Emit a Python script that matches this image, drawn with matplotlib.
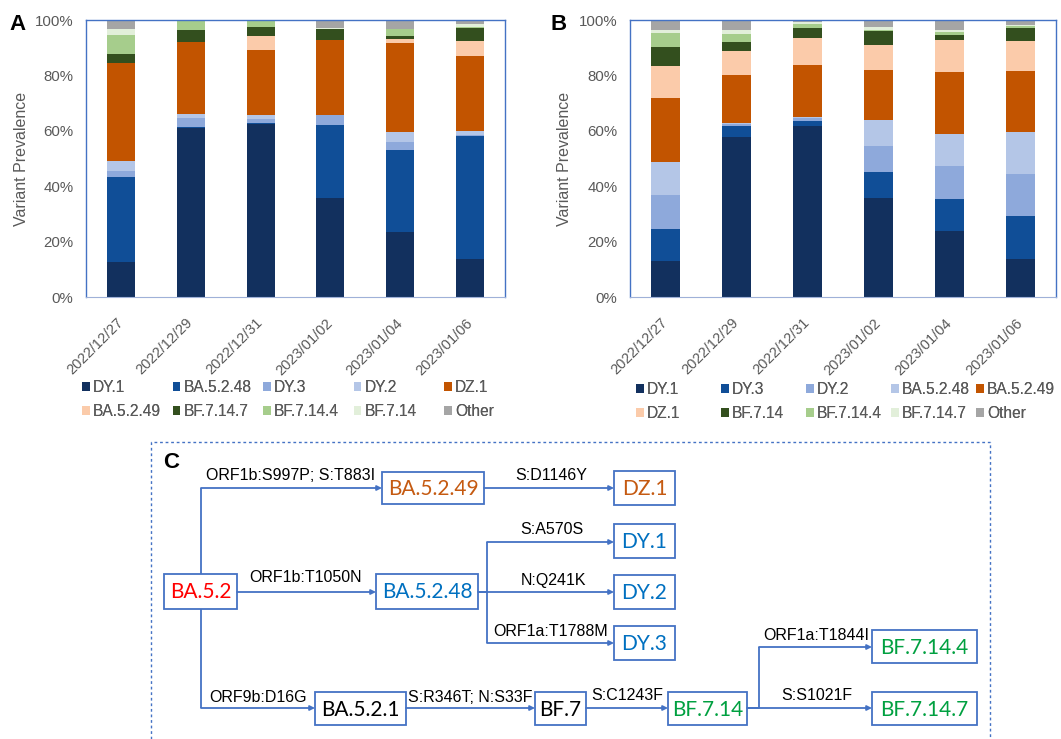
import matplotlib
matplotlib.use("Agg")
import matplotlib.pyplot as plt
from matplotlib.patches import Patch, Rectangle
import numpy as np

plt.rcParams['font.family'] = ['Liberation Sans', 'DejaVu Sans']

dates = ["2022/12/27", "2022/12/29", "2022/12/31", "2023/01/02", "2023/01/04", "2023/01/06"]

# panel A (percent of sequences)
a_names = ["DY.1", "BA.5.2.48", "DY.3", "DY.2", "DZ.1",
           "BA.5.2.49", "BF.7.14.7", "BF.7.14.4", "BF.7.14", "Other"]
a_dy1 = [12.7, 61.1, 62.4, 35.9, 23.5, 13.7]
a_ba5248 = [30.7, 0.3, 0.3, 26.3, 29.5, 44.3]
a_dy3 = [2.0, 3.4, 1.4, 3.4, 2.9, 0.4]
a_dy2 = [3.8, 1.3, 1.6, 0.0, 3.5, 1.4]
a_dz1 = [35.1, 26.0, 23.3, 27.0, 32.4, 27.2]
a_ba5249 = [0.0, 0.0, 5.1, 0.0, 1.3, 5.4]
a_bf7147 = [3.4, 4.3, 3.4, 4.1, 1.1, 4.7]
a_bf7144 = [6.9, 3.3, 2.3, 0.0, 2.4, 0.4]
a_bf714 = [2.3, 0.3, 0.2, 0.4, 0.3, 1.0]
a_other = [3.1, 0.0, 0.0, 3.0, 3.1, 1.4]

# panel B
b_names = ["DY.1", "DY.3", "DY.2", "BA.5.2.48", "BA.5.2.49",
           "DZ.1", "BF.7.14", "BF.7.14.4", "BF.7.14.7", "Other"]
b_dy1 = [12.9, 57.8, 61.9, 35.9, 23.7, 13.7]
b_dy3 = [11.8, 3.9, 1.6, 9.3, 11.7, 15.4]
b_dy2 = [12.0, 0.8, 1.3, 9.3, 11.8, 15.3]
b_ba5248 = [11.9, 0.4, 0.2, 9.4, 11.7, 15.3]
b_ba5249 = [23.3, 17.2, 18.9, 18.1, 22.5, 21.8]
b_dz1 = [11.6, 8.8, 9.6, 8.9, 11.2, 11.0]
b_bf714 = [6.6, 3.1, 3.5, 5.3, 2.0, 4.7]
b_bf7144 = [5.1, 3.1, 1.7, 0.2, 1.2, 0.5]
b_bf7147 = [1.2, 1.2, 0.5, 1.0, 0.5, 0.6]
b_other = [3.6, 3.6, 0.7, 2.6, 3.6, 1.7]

colors = ["#12305E", "#104E97", "#8EA9DB", "#B4C6E7", "#C25400",
          "#FBCBAA", "#334F1E", "#A6CD8C", "#E2EFDA", "#A5A5A5"]

W, H = 1061, 739
fig = plt.figure(figsize=(W / 100, H / 100), dpi=100)

grey = "#595959"
blue = "#4472C4"


def stacked(rect, series, names, leg_x, leg_dx, leg_top, letter, letter_xy):
    ax = fig.add_axes(rect)
    x = np.arange(len(dates))
    bottom = np.zeros(len(dates))
    handles = []
    for vals, c, n in zip(series, colors, names):
        v = np.array(vals)
        ax.bar(x, v, 0.4, bottom=bottom, color=c, linewidth=0)
        bottom += v
        handles.append(Patch(facecolor=c, label=n))
    ax.set_xlim(-0.5, len(dates) - 0.5)
    ax.set_ylim(0, 100)
    ax.set_yticks(np.arange(0, 101, 20))
    ax.set_yticklabels([f"{t}%" for t in range(0, 101, 20)])
    ax.set_xticks(x)
    ax.set_xticklabels(dates, rotation=45, ha="right", va="center",
                       rotation_mode="anchor")
    ax.tick_params(length=0, labelsize=10.5, labelcolor=grey)
    ax.tick_params(axis="y", pad=9, labelsize=10.8)
    ax.tick_params(axis="x", pad=17)
    for s in ["left", "top", "right"]:
        ax.spines[s].set_color(blue)
        ax.spines[s].set_linewidth(1.0)
    ax.spines["bottom"].set_color("#9FB1D8")
    ax.set_ylabel("Variant Prevalence", fontsize=11.5, color=grey)
    ax.yaxis.set_label_coords(-0.135, 0.5)
    # legend laid out row-wise like the original, one small legend per column
    for j in range(5):
        lg = fig.legend(handles=[handles[j], handles[j + 5]], loc="upper left",
                        bbox_to_anchor=((leg_x + j * leg_dx) / W, 1 - leg_top / H),
                        frameon=False, fontsize=11.2, labelcolor=grey,
                        handlelength=0.5, handleheight=0.5, handletextpad=0.2,
                        borderpad=0, borderaxespad=0, labelspacing=0.6)
        fig.add_artist(lg)
    fig.text(letter_xy[0] / W, 1 - letter_xy[1] / H, letter, fontsize=16,
             fontweight="bold", ha="center", va="center")
    return ax


stacked([86 / W, 1 - 297 / H, 419 / W, 277 / H],
        [a_dy1, a_ba5248, a_dy3, a_dy2, a_dz1, a_ba5249, a_bf7147, a_bf7144, a_bf714, a_other],
        a_names, 82, 90.5, 380, "A", (18, 25))
stacked([630 / W, 1 - 297 / H, 426 / W, 277 / H],
        [b_dy1, b_dy3, b_dy2, b_ba5248, b_ba5249, b_dz1, b_bf714, b_bf7144, b_bf7147, b_other],
        b_names, 636, 85, 382, "B", (559, 25))

# panel C: lineage diagram, drawn in pixel space
cx = fig.add_axes([0, 0, 1, 1], zorder=-1)
cx.set_xlim(0, W)
cx.set_ylim(H, 0)
cx.axis("off")

red, orange, dblue, green = "#FF0000", "#C55A11", "#0070C0", "#00A040"
nodes = {
    "BA.5.2": (164, 237, 574, 609, red),
    "BA.5.2.49": (382, 484, 472, 504, orange),
    "DZ.1": (614, 675, 471, 505, orange),
    "BA.5.2.48": (376, 478, 574, 609, dblue),
    "DY.1": (614, 675, 524, 558, dblue),
    "DY.2": (614, 675, 575, 609, dblue),
    "DY.3": (614, 675, 626, 660, dblue),
    "BA.5.2.1": (315, 406, 692, 725, "black"),
    "BF.7": (535, 586, 692, 725, "black"),
    "BF.7.14": (668, 747, 692, 725, green),
    "BF.7.14.4": (872, 977, 630, 663, green),
    "BF.7.14.7": (872, 977, 692, 725, green),
}
for name, (x0, x1, y0, y1, c) in nodes.items():
    cx.add_patch(Rectangle((x0, y0), x1 - x0, y1 - y0, fill=False,
                           edgecolor=blue, linewidth=1.3))
    cx.text((x0 + x1) / 2, (y0 + y1) / 2 + 1, name, color=c, fontsize=15,
            family=["Lato", "DejaVu Sans"], ha="center", va="center")

paths = [
    [(201, 574), (201, 488), (382, 488)],
    [(237, 592), (376, 592)],
    [(201, 609), (201, 708), (315, 708)],
    [(484, 488), (614, 488)],
    [(478, 592), (487, 592), (487, 542), (614, 542)],
    [(478, 592), (614, 592)],
    [(487, 592), (487, 643), (614, 643)],
    [(406, 708), (535, 708)],
    [(586, 708), (668, 708)],
    [(747, 708), (759, 708), (759, 647), (872, 647)],
    [(747, 708), (872, 708)],
]
for p in paths:
    xs, ys = zip(*p)
    cx.plot(xs[:-1], ys[:-1], color=blue, lw=1.3, solid_capstyle="butt")
    cx.annotate("", xy=p[-1], xytext=p[-2],
                arrowprops=dict(arrowstyle="-|>", color=blue, lw=1.3,
                                mutation_scale=7, shrinkA=0, shrinkB=0))

labels = [
    ("ORF1b:S997P; S:T883I", 291, 476),
    ("ORF1b:T1050N", 306, 578),
    ("ORF9b:D16G", 258, 697),
    ("S:D1146Y", 551, 476),
    ("S:A570S", 552, 529),
    ("N:Q241K", 553, 580),
    ("ORF1a:T1788M", 551, 631),
    ("S:R346T; N:S33F", 470, 697),
    ("S:C1243F", 627, 696),
    ("ORF1a:T1844I", 816, 635),
    ("S:S1021F", 817, 696),
]
for t, x, y in labels:
    cx.text(x, y, t, fontsize=11.5, ha="center", va="center", color="black")

cx.plot([151, 151, 990, 990], [H, 442, 442, H], color=blue, lw=1.0,
        linestyle=(0, (2, 2)))
cx.text(171, 463, "C", fontsize=16, fontweight="bold", ha="center", va="center")

fig.savefig("out.png", dpi=100)
